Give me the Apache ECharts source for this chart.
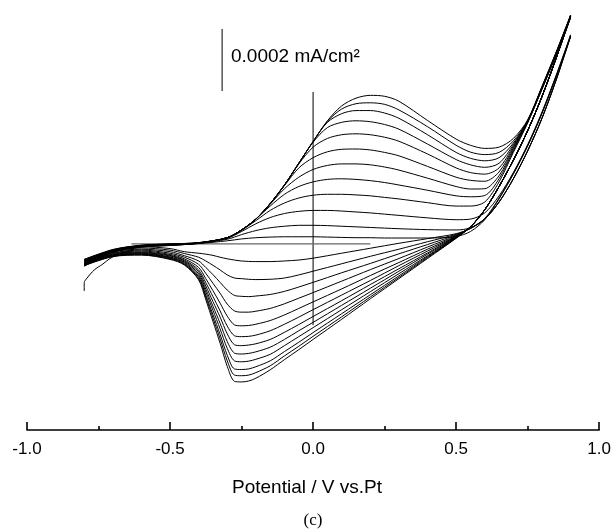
<!DOCTYPE html>
<html>
<head>
<meta charset="utf-8">
<script src="https://cdn.jsdelivr.net/npm/echarts@6/dist/echarts.min.js"></script>
<style>html,body{margin:0;padding:0;background:#fff}#c{width:614px;height:530px}</style>
</head>
<body>
<div id="c"></div>
<script>
// Potential grid (V vs. Pt) for the anodic (forward) scans
const X_UP = [-0.8,-0.7,-0.6,-0.5,-0.4,-0.3,-0.25,-0.2,-0.15,-0.1,-0.05,0,0.05,0.1,0.15,0.2,0.25,0.3,0.4,0.5,0.55,0.6,0.65,0.7,0.75,0.8,0.85,0.9];
// current density, units of 1e-4 mA/cm2, one array per cycle (cycle 1 .. 12)
const UP_1  = [-0.72,-0.27,-0.1,-0.05,0.01,0.1,0.16,0.2,0.22,0.23,0.23,0.23,0.22,0.21,0.2,0.2,0.19,0.19,0.19,0.24,0.4,0.78,1.45,2.25,3.15,4.2,5.4,6.68];
const UP_2  = [-0.7,-0.26,-0.1,-0.05,0.02,0.15,0.3,0.43,0.52,0.57,0.6,0.6,0.59,0.57,0.55,0.53,0.51,0.49,0.46,0.45,0.52,0.82,1.48,2.28,3.18,4.22,5.42,6.7];
const UP_3  = [-0.68,-0.25,-0.09,-0.04,0.02,0.18,0.4,0.65,0.85,0.98,1.05,1.08,1.08,1.06,1.03,1.0,0.96,0.92,0.84,0.78,0.8,1.0,1.55,2.3,3.2,4.25,5.45,6.74];
const UP_4  = [-0.66,-0.24,-0.08,-0.04,0.02,0.2,0.44,0.75,1.08,1.32,1.48,1.57,1.6,1.6,1.58,1.55,1.5,1.45,1.33,1.22,1.22,1.35,2.0,2.95,3.9,4.98,6.1,7.3];
const UP_5  = [-0.66,-0.23,-0.08,-0.03,0.03,0.2,0.45,0.8,1.22,1.6,1.85,2.0,2.08,2.1,2.08,2.04,1.98,1.9,1.73,1.55,1.52,1.56,2.1,3.0,3.92,5.0,6.12,7.31];
const UP_6  = [-0.62,-0.22,-0.07,-0.03,0.03,0.2,0.45,0.8,1.28,1.78,2.15,2.4,2.53,2.58,2.58,2.55,2.48,2.38,2.12,1.85,1.77,1.78,2.2,3.05,3.93,5.01,6.13,7.32];
const UP_7  = [-0.6,-0.22,-0.07,-0.02,0.03,0.2,0.45,0.8,1.3,1.88,2.45,2.78,2.97,3.05,3.06,3.03,2.95,2.84,2.5,2.15,2.05,2.02,2.32,3.1,3.94,5.02,6.14,7.33];
const UP_8  = [-0.58,-0.21,-0.06,-0.02,0.03,0.2,0.45,0.8,1.3,1.9,2.58,3.12,3.4,3.52,3.55,3.52,3.44,3.31,2.9,2.45,2.3,2.25,2.45,3.15,3.95,5.03,6.15,7.34];
const UP_9  = [-0.56,-0.2,-0.06,-0.01,0.03,0.2,0.45,0.8,1.3,1.9,2.6,3.28,3.75,3.92,3.97,3.94,3.85,3.7,3.22,2.72,2.55,2.47,2.6,3.2,3.96,5.04,6.16,7.35];
const UP_10 = [-0.54,-0.19,-0.05,-0.01,0.04,0.2,0.45,0.8,1.3,1.9,2.6,3.3,3.92,4.2,4.3,4.3,4.22,4.05,3.52,2.95,2.76,2.68,2.78,3.25,3.97,5.05,6.17,7.36];
const UP_11 = [-0.52,-0.2,-0.05,0.0,0.04,0.2,0.45,0.8,1.3,1.9,2.6,3.3,3.95,4.35,4.52,4.55,4.5,4.32,3.78,3.18,2.96,2.88,2.95,3.32,3.98,5.06,6.18,7.36];
const UP_12 = [-0.5,-0.18,-0.04,0.0,0.04,0.2,0.45,0.8,1.3,1.9,2.6,3.3,3.97,4.45,4.7,4.79,4.76,4.6,3.98,3.38,3.18,3.08,3.12,3.4,4.0,5.08,6.2,7.38];

// Potential grid for the cathodic (reverse) scans
const X_LO = [0.9,0.85,0.8,0.75,0.7,0.65,0.6,0.55,0.5,0.4,0.3,0.2,0.1,0,-0.05,-0.1,-0.15,-0.2,-0.225,-0.25,-0.275,-0.3,-0.325,-0.35,-0.375,-0.4,-0.45,-0.5,-0.6,-0.7,-0.8];
const LO_1  = [6.68,5.3,4.05,3.0,2.1,1.35,0.8,0.5,0.33,0.17,0.02,-0.14,-0.30,-0.46,-0.52,-0.55,-0.57,-0.57,-0.565,-0.55,-0.52,-0.48,-0.43,-0.37,-0.33,-0.3,-0.25,-0.15,-0.09,-0.2,-0.5];
const LO_2  = [6.7,5.3,4.05,3.0,2.1,1.35,0.8,0.5,0.31,0.07,-0.17,-0.40,-0.64,-0.88,-1.00,-1.10,-1.14,-1.15,-1.14,-1.12,-1.10,-1.00,-0.84,-0.69,-0.55,-0.43,-0.31,-0.20,-0.13,-0.23,-0.53];
const LO_3  = [6.74,5.3,4.05,3.0,2.1,1.35,0.8,0.5,0.29,-0.02,-0.32,-0.63,-0.93,-1.24,-1.39,-1.53,-1.63,-1.68,-1.70,-1.69,-1.66,-1.49,-1.24,-0.99,-0.76,-0.55,-0.38,-0.25,-0.17,-0.26,-0.56];
const LO_4  = [7.3,6.0,4.75,3.65,2.7,1.85,1.1,0.55,0.27,-0.10,-0.47,-0.83,-1.20,-1.57,-1.75,-1.93,-2.08,-2.17,-2.20,-2.20,-2.16,-1.94,-1.59,-1.27,-0.95,-0.66,-0.43,-0.30,-0.20,-0.29,-0.58];
const LO_5  = [7.31,6.0,4.75,3.65,2.7,1.85,1.1,0.55,0.25,-0.17,-0.60,-1.02,-1.45,-1.87,-2.08,-2.29,-2.47,-2.59,-2.63,-2.64,-2.61,-2.33,-1.91,-1.51,-1.12,-0.76,-0.48,-0.34,-0.23,-0.31,-0.61];
const LO_6  = [7.32,6.0,4.75,3.65,2.7,1.85,1.1,0.55,0.24,-0.23,-0.70,-1.18,-1.65,-2.12,-2.36,-2.59,-2.80,-2.94,-2.98,-2.99,-2.96,-2.65,-2.16,-1.70,-1.25,-0.84,-0.52,-0.37,-0.26,-0.33,-0.63];
const LO_7  = [7.33,6.0,4.75,3.65,2.7,1.85,1.1,0.55,0.23,-0.29,-0.80,-1.31,-1.83,-2.34,-2.60,-2.85,-3.08,-3.22,-3.26,-3.28,-3.25,-2.90,-2.36,-1.86,-1.36,-0.90,-0.55,-0.39,-0.28,-0.35,-0.64];
const LO_8  = [7.34,6.0,4.75,3.65,2.7,1.85,1.1,0.55,0.22,-0.33,-0.88,-1.43,-1.98,-2.53,-2.80,-3.08,-3.33,-3.48,-3.53,-3.55,-3.52,-3.15,-2.56,-2.01,-1.46,-0.96,-0.58,-0.42,-0.30,-0.36,-0.65];
const LO_9  = [7.35,6.0,4.75,3.65,2.7,1.85,1.1,0.55,0.21,-0.38,-0.96,-1.54,-2.12,-2.70,-2.99,-3.28,-3.56,-3.72,-3.78,-3.80,-3.77,-3.37,-2.74,-2.14,-1.55,-1.02,-0.61,-0.44,-0.32,-0.38,-0.67];
const LO_10 = [7.36,6.0,4.75,3.65,2.7,1.85,1.1,0.55,0.20,-0.41,-1.03,-1.64,-2.25,-2.86,-3.17,-3.47,-3.77,-3.96,-4.03,-4.05,-4.03,-3.59,-2.92,-2.28,-1.65,-1.07,-0.64,-0.46,-0.33,-0.39,-0.68];
const LO_11 = [7.36,6.0,4.75,3.65,2.7,1.85,1.1,0.55,0.19,-0.44,-1.08,-1.71,-2.35,-2.98,-3.30,-3.61,-3.93,-4.15,-4.23,-4.25,-4.23,-3.77,-3.06,-2.39,-1.72,-1.12,-0.66,-0.48,-0.35,-0.40,-0.69];
const LO_12 = [7.38,6.0,4.75,3.65,2.7,1.85,1.1,0.55,0.18,-0.47,-1.12,-1.77,-2.43,-3.08,-3.41,-3.73,-4.06,-4.33,-4.42,-4.45,-4.43,-3.95,-3.20,-2.50,-1.80,-1.16,-0.68,-0.50,-0.36,-0.41,-0.70];

// first start of the very first scan at -0.8 V
const X_START = [-0.8,-0.8,-0.79,-0.765,-0.735,-0.71,-0.67,-0.62];
const Y_START = [-1.52,-1.25,-1.1,-0.84,-0.65,-0.47,-0.3,-0.12];

// annotation: current scale bar (2 x 1e-4 mA/cm2) and zero cross
const SCALE_BAR_X = [-0.318,-0.318];
const SCALE_BAR_Y = [4.93,6.93];
const CROSS_V_X = [0,0];
const CROSS_V_Y = [4.9,-2.62];
const CROSS_H_X = [-0.635,0.2];
const CROSS_H_Y = [0,0];

const X_TICKS = [-1.0,-0.5,0.0,0.5,1.0];
const X_TITLE = 'Potential / V vs.Pt';
const SCALE_LABEL = '0.0002 mA/cm\u00B2';
const PANEL_LABEL = '(c)';

const UPS = [UP_1,UP_2,UP_3,UP_4,UP_5,UP_6,UP_7,UP_8,UP_9,UP_10,UP_11,UP_12];
const LOS = [LO_1,LO_2,LO_3,LO_4,LO_5,LO_6,LO_7,LO_8,LO_9,LO_10,LO_11,LO_12];

const zip = (xs, ys) => xs.map((x, i) => [x, ys[i]]);
const curve = (data) => ({
  type: 'line', data, showSymbol: false, symbol: 'none', smooth: 0.3,
  lineStyle: { color: '#000', width: 1 }, silent: true, z: 3
});
const series = [];
UPS.forEach(u => series.push(curve(zip(X_UP, u))));
LOS.forEach(l => series.push(curve(zip(X_LO, l))));
series.push(curve(zip(X_START, Y_START)));
const straight = (data, color, width) => ({
  type: 'line', data, showSymbol: false, symbol: 'none', smooth: false,
  lineStyle: { color, width }, silent: true, z: 2
});
series.push(straight(zip(SCALE_BAR_X, SCALE_BAR_Y), '#000', 1));
series.push(straight(zip(CROSS_V_X, CROSS_V_Y), '#000', 1));
series.push(straight(zip(CROSS_H_X, CROSS_H_Y), '#666', 1.2));

const chart = echarts.init(document.getElementById('c'), null, { renderer: 'canvas' });
chart.setOption({
  animation: false,
  backgroundColor: '#fff',
  grid: { left: 27, right: 12, top: 2, bottom: 100, containLabel: false },
  xAxis: {
    type: 'value', min: X_TICKS[0], max: X_TICKS[X_TICKS.length - 1], interval: 0.5,
    axisLine: { onZero: false, lineStyle: { color: '#000', width: 1.6 } },
    axisTick: { inside: true, length: 8, lineStyle: { color: '#000', width: 1.6 } },
    minorTick: { show: true, splitNumber: 2, length: 4, lineStyle: { color: '#000', width: 1.6 } },
    splitLine: { show: false }, minorSplitLine: { show: false },
    axisLabel: { color: '#000', fontSize: 17, fontFamily: 'Liberation Sans, Arial, sans-serif', margin: 11,
      showMinLabel: true, showMaxLabel: true, formatter: v => v.toFixed(1) }
  },
  yAxis: { type: 'value', min: -6, max: 7.8, show: false, splitLine: { show: false } },
  series,
  graphic: [
    { type: 'text', x: 231, y: 57, style: { text: SCALE_LABEL, fontSize: 19, fontFamily: 'Liberation Sans, Arial, sans-serif', fill: '#000', align: 'left', verticalAlign: 'middle' } },
    { type: 'text', x: 307, y: 488, style: { text: X_TITLE, fontSize: 19, fontFamily: 'Liberation Sans, Arial, sans-serif', fill: '#000', align: 'center', verticalAlign: 'middle' } },
    { type: 'text', x: 313, y: 521, style: { text: PANEL_LABEL, fontSize: 17, fontFamily: 'Liberation Serif, Times New Roman, serif', fill: '#000', align: 'center', verticalAlign: 'middle' } }
  ]
});
</script>
</body>
</html>
